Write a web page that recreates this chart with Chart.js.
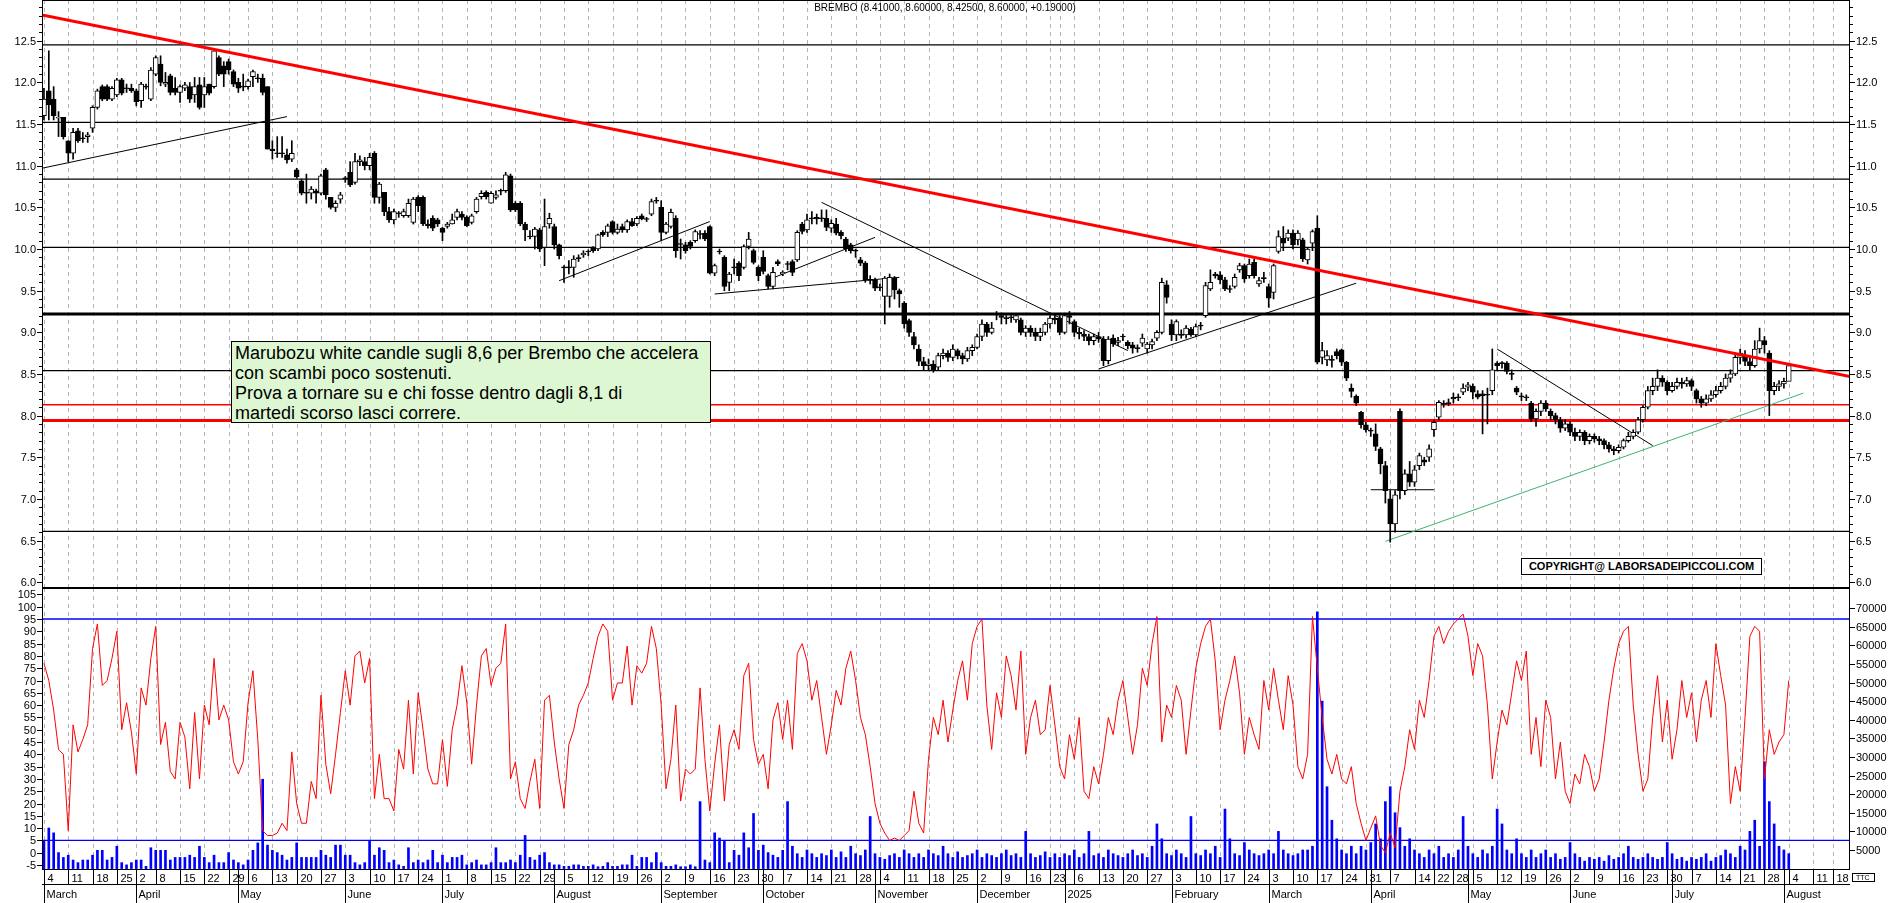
<!DOCTYPE html>
<html><head><meta charset="utf-8">
<script src="https://cdn.jsdelivr.net/npm/chart.js@4.4.1/dist/chart.umd.min.js"></script>
<style>
html,body{margin:0;padding:0;background:#fff;width:1890px;height:903px;overflow:hidden;font-family:"Liberation Sans",Arial,sans-serif}
#c1{position:absolute;left:0;top:0}
#c2{position:absolute;left:0;top:588px}
#title{position:absolute;left:0;width:1890px;top:2px;text-align:center;font-size:10px;color:#000}
#note{position:absolute;left:231px;top:341px;width:480px;height:82px;background:#ddf7d2;border:1px solid #000;font-size:18px;line-height:20px;padding:1px 0 0 3px;box-sizing:border-box;color:#000}
#copy{position:absolute;left:1521px;top:558px;width:241px;height:17px;border:1px solid #000;background:#fff;font-weight:bold;font-size:11px;line-height:15px;text-align:center;box-sizing:border-box}
</style></head>
<body>
<canvas id="c1" width="1890" height="588"></canvas>
<canvas id="c2" width="1890" height="315"></canvas>
<div id="title">BREMBO (8.41000, 8.60000, 8.42500, 8.60000, +0.19000)</div>
<div id="note">Marubozu white candle sugli 8,6 per Brembo che accelera<br>con scambi poco sostenuti.<br>Prova a tornare su e chi fosse dentro dagli 8,1 di<br>martedi scorso lasci correre.</div>
<div id="copy">COPYRIGHT@ LABORSADEIPICCOLI.COM</div>
<script>
const startDate='2024-03-04';
const holidays=['2024-03-29','2024-04-01','2024-05-01','2024-12-24','2024-12-25','2024-12-26','2024-12-31','2025-01-01','2025-04-18','2025-04-21','2025-05-01','2025-08-15'];
const monthNames=['January','February','March','April','May','June','July','August','September','October','November','December'];
const totalSlots=372;
const priceTicks=[6.0,6.5,7.0,7.5,8.0,8.5,9.0,9.5,10.0,10.5,11.0,11.5,12.0,12.5];
const oscTicks=[-5,0,5,10,15,20,25,30,35,40,45,50,55,60,65,70,75,80,85,90,95,100,105];
const volTicks=[5,10,15,20,25,30,35,40,45,50,55,60,65,70];

const O=[11.6,11.9,11.8,11.57,11.58, 11.3,11.15,11.42,11.33,11.35, 11.45,11.7,11.95,11.95,11.8, 11.85,12.03,11.93,11.93, 11.9,11.78,11.95,11.8,
12.1,12.22,11.98,12.08,11.93, 11.88,11.93,11.95,11.85,11.97, 11.85,11.98,11.95,12.3,12.2, 12.25,12.13,12.0,11.95, 11.95,12.07,12.05,12.05,11.95,
11.2,11.15,11.15,11.13,11.08, 10.95,10.82,10.68,10.67,10.7, 10.67,10.95,10.62,10.5,10.6, 10.85,10.92,10.8,11.05,11.05, 11.0,11.15,10.62,10.68,10.45,
10.35,10.43,10.4,10.4,10.32, 10.62,10.62,10.3,10.37,10.35, 10.25,10.27,10.3,10.38,10.42, 10.38,10.32,10.45,10.63,10.68, 10.55,10.62,
10.7,10.7,10.88,10.55,10.55,10.3,10.15,10.15,10.23,10.02, 10.3,10.27,10.05,9.78,9.78,9.78,9.89,9.93,9.97,10.02,
10.0,10.2,10.2,10.33,10.2,10.27,10.23,10.33,10.3,10.4, 10.36,10.42,10.58,10.5,10.2,10.27,10.37,10.06,10.05,10.08,
10.1,10.18,10.19,10.27,9.71,9.97,9.9,9.6,9.78,9.83, 9.78,10.03,9.98,9.78,9.9,9.68,9.55,9.85,9.7,9.82, 9.85,9.87,
10.3,10.23,10.37,10.38,10.37,10.37,10.25,10.3,10.2,10.12, 10.05,9.98,9.87,9.83,9.63,9.63,9.54,9.43,9.43,9.65, 9.5,9.35,9.14,
8.95,8.8,8.65,8.6,8.62,8.58,8.72,8.75,8.7,8.78, 8.72,8.68,8.78,8.82,8.95,9.1,
9.0,9.22,9.2,9.17,9.18,9.15,9.15,9.0,9.05,9.0, 8.95,9.0,9.1,9.17,9.17,9.0,9.2,9.13,9.0,
8.98,8.95,8.9,8.95,
8.92,8.66,8.93,8.88,8.95,8.88,8.85,8.81,8.87,8.8, 8.85,8.93,9.0,9.57,9.1,8.97,8.97,8.97,9.04,8.97, 9.08,9.2,9.52,9.7,9.69,9.63,9.52,9.55,9.75,9.8, 9.68,9.84,9.58,9.65,9.55,9.48,9.97,
10.13,10.13,10.19,10.11,10.11,9.87,10.07,10.25,
8.7,8.67,8.67,8.77,8.79,8.64,8.33,8.23,8.04,7.89,7.82,7.78,7.6,
7.4,7.0,6.7,8.05,7.1,7.3,7.2,7.4,7.47,7.5,
7.83,7.98,8.14,8.15,8.22,8.22,8.28,8.34,8.35,8.26, 8.26,8.25,8.3,8.63,8.63,8.63,8.5,8.33,8.23,8.22, 8.15,7.96,8.05,8.15,
8.05,8.0,7.95,7.85,7.9,7.8,7.75,7.8,7.7,7.75, 7.72,7.7,7.65,7.6,7.58,7.62,7.7,7.75,7.8,7.95, 8.1,8.3,8.35,8.45,8.4,8.3,8.35,8.4,8.38,8.42,
8.3,8.2,8.15,8.2,8.25,8.3,8.35,8.45,8.5,8.7, 8.72,8.65,8.6,8.8,8.9,8.75,8.3,8.35,8.38,8.41];
const C=[11.8,11.73,11.6,11.58,11.35, 11.15,11.4,11.3,11.33,11.37, 11.7,11.9,11.8,11.8,11.93, 12.03,11.87,11.93,11.9, 11.77,11.98,11.95,12.15,
12.3,12.0,12.0,11.88,11.88, 11.95,11.97,11.8,11.95,11.7, 11.95,11.87,12.38,12.1,12.1, 12.15,11.98,11.93,11.95, 12.02,12.13,12.05,11.88,11.2,
11.18,11.15,11.15,11.07,11.15, 10.87,10.67,10.67,10.72,10.67, 10.88,10.65,10.5,10.55,10.65, 10.85,10.77,11.05,11.07,11.0, 11.1,10.62,10.78,10.45,10.35,
10.45,10.43,10.45,10.55,10.6, 10.52,10.3,10.28,10.25,10.3, 10.2,10.3,10.35,10.45,10.38, 10.28,10.4,10.6,10.67,10.63, 10.67,10.65,
10.7,10.89,10.47,10.47,10.3,10.23,10.15,10.24,10.0,10.27, 10.37,10.05,9.92,9.78,9.78,9.88,9.89,9.95,9.97,9.98,
10.17,10.17,10.28,10.2,10.24,10.23,10.33,10.28,10.37,10.36, 10.36,10.57,10.58,10.2,10.3,10.44,9.98,10.06,9.98,10.03,
10.21,10.18,10.12,9.71,9.8,9.97,9.55,9.7,9.78,9.68, 10.03,10.12,9.84,9.68,9.73,9.55,9.72,9.82,9.72,9.82, 9.72,10.2,
10.21,10.35,10.37,10.36,10.37,10.26,10.31,10.19,10.16,10.0, 9.98,9.98,9.83,9.63,9.63,9.53,9.54,9.65,9.66,9.51, 9.46,9.1,9.0,
8.85,8.65,8.6,8.62,8.55,8.72,8.75,8.7,8.8,8.72, 8.68,8.78,8.82,8.95,9.1,9.0,
9.05,9.22,9.18,9.17,9.18,9.2,9.0,9.05,9.0,8.95, 9.0,9.1,9.17,9.15,9.0,9.2,9.18,9.0,8.98,
8.95,8.9,8.95,8.92,
8.66,8.92,8.86,8.9,8.95,8.84,8.81,8.81,8.93,8.86, 8.89,9.0,9.6,9.42,8.97,9.13,8.97,9.05,8.97,9.07, 9.08,9.56,9.6,9.68,9.63,9.52,9.52,9.66,9.8,9.64, 9.82,9.68,9.62,9.65,9.41,9.8,10.15,
10.07,10.19,10.05,10.19,9.88,10.0,10.21,8.64,
8.78,8.72,8.67,8.72,8.64,8.45,8.29,8.15,7.89,7.83,7.82,7.63,7.42,
7.1,6.7,7.05,7.1,7.3,7.2,7.35,7.52,7.44,7.6,
7.92,8.16,8.14,8.15,8.2,8.22,8.33,8.37,8.28,8.22, 8.24,8.25,8.55,8.6,8.63,8.53,8.5,8.28,8.23,8.22, 7.96,8.05,8.15,8.08,
8.0,7.95,7.85,7.9,7.8,7.75,7.8,7.7,7.75,7.72, 7.7,7.65,7.6,7.58,7.62,7.7,7.75,7.8,7.95,8.1, 8.3,8.35,8.45,8.4,8.3,8.35,8.4,8.38,8.42,8.35,
8.2,8.15,8.2,8.25,8.3,8.35,8.45,8.5,8.7,8.75, 8.65,8.6,8.8,8.9,8.85,8.3,8.35,8.38,8.41,8.6];
const H=[11.93,12.38,11.95,11.65,11.58, 11.3,11.45,11.45,11.4,11.4, 11.72,11.92,11.97,11.97,11.95, 12.05,12.05,11.98,11.98, 11.92,12.0,11.98,12.18,
12.32,12.32,12.12,12.1,12.06, 11.97,12.0,12.0,12.06,12.06, 12.06,11.98,12.38,12.32,12.25, 12.28,12.15,12.05,12.1, 12.04,12.15,12.1,12.1,11.95,
11.3,11.35,11.35,11.2,11.3, 10.97,10.84,10.9,10.75,10.72, 10.9,10.97,10.62,10.58,10.68, 10.87,11.05,11.15,11.12,11.1, 11.15,11.17,10.8,10.68,10.5,
10.48,10.45,10.48,10.6,10.62, 10.64,10.64,10.35,10.4,10.37, 10.26,10.32,10.42,10.48,10.45, 10.4,10.42,10.62,10.7,10.7, 10.69,10.7,
10.72,10.92,10.9,10.57,10.57,10.32,10.22,10.26,10.25,10.6, 10.43,10.3,10.06,9.8,9.86,9.92,9.93,9.98,9.99,10.03,
10.18,10.22,10.3,10.34,10.3,10.3,10.35,10.37,10.39,10.42, 10.38,10.6,10.62,10.58,10.32,10.48,10.4,10.12,10.08,10.1,
10.23,10.22,10.22,10.28,9.82,10.0,9.92,9.72,9.88,9.85, 10.05,10.2,10.0,9.8,9.98,9.7,9.78,9.87,9.74,9.85, 9.87,10.22,
10.32,10.42,10.45,10.42,10.47,10.47,10.35,10.37,10.22,10.14, 10.07,10.0,9.9,9.85,9.68,9.65,9.58,9.67,9.7,9.67, 9.52,9.37,9.16,
9.0,8.85,8.7,8.68,8.66,8.75,8.8,8.78,8.85,8.8, 8.75,8.82,8.85,8.98,9.15,9.12,
9.12,9.25,9.23,9.2,9.2,9.2,9.17,9.08,9.08,9.05, 9.05,9.12,9.2,9.2,9.2,9.23,9.25,9.15,9.05,
9.02,8.98,8.98,9.0,
8.95,8.95,8.97,8.94,8.98,8.9,8.88,8.85,8.98,8.88, 8.92,9.02,9.65,9.62,9.15,9.15,9.03,9.08,9.06,9.1, 9.12,9.6,9.75,9.72,9.73,9.66,9.56,9.7,9.83,9.82, 9.88,9.88,9.66,9.72,9.58,9.82,10.22,
10.27,10.23,10.23,10.22,10.13,10.02,10.23,10.4,
8.88,8.78,8.72,8.8,8.8,8.65,8.38,8.25,8.05,7.92,7.85,7.9,7.62,
7.45,7.1,7.1,8.08,7.35,7.45,7.4,7.55,7.5,7.65,
7.95,8.18,8.18,8.2,8.27,8.26,8.38,8.4,8.38,8.3, 8.3,8.33,8.8,8.65,8.65,8.65,8.55,8.35,8.27,8.25, 8.17,8.08,8.18,8.18,
8.08,8.03,7.98,7.95,7.93,7.85,7.83,7.82,7.78,7.78, 7.75,7.72,7.68,7.63,7.65,7.72,7.8,7.83,7.98,8.12, 8.35,8.45,8.55,8.48,8.42,8.4,8.45,8.45,8.46,8.44,
8.32,8.23,8.25,8.3,8.35,8.4,8.5,8.55,8.75,8.8, 8.78,8.7,8.9,9.05,8.95,8.78,8.4,8.42,8.45,8.6];
const L=[11.55,11.55,11.55,11.35,11.32, 11.05,11.08,11.28,11.28,11.28, 11.4,11.68,11.78,11.78,11.78, 11.83,11.85,11.88,11.88, 11.72,11.7,11.92,11.78,
12.08,11.96,11.95,11.85,11.85, 11.76,11.9,11.76,11.76,11.68, 11.7,11.85,11.93,12.08,11.95, 12.1,11.95,11.88,11.9, 11.92,11.95,12.0,11.85,11.2,
11.08,11.1,11.1,11.03,11.05, 10.85,10.65,10.55,10.6,10.55, 10.65,10.6,10.48,10.45,10.55, 10.8,10.75,10.78,11.0,10.95, 10.95,10.55,10.55,10.4,10.32,
10.3,10.38,10.38,10.38,10.3, 10.45,10.28,10.25,10.22,10.27, 10.1,10.25,10.3,10.35,10.35, 10.27,10.3,10.43,10.6,10.6, 10.55,10.6,
10.65,10.68,10.45,10.45,10.28,10.1,10.12,10.0,9.97,9.8, 10.25,10.0,9.88,9.6,9.7,9.66,9.85,9.9,9.92,9.96,
9.98,10.15,10.15,10.18,10.18,10.2,10.2,10.27,10.28,10.35, 10.33,10.4,10.55,10.1,10.18,10.25,9.9,9.88,9.95,10.0,
10.08,10.12,10.1,9.7,9.68,9.94,9.5,9.5,9.7,9.62, 9.76,10.0,9.82,9.62,9.7,9.52,9.52,9.8,9.68,9.75, 9.68,9.85,
10.18,10.2,10.3,10.3,10.33,10.22,10.2,10.17,10.12,9.97, 9.95,9.9,9.8,9.6,9.58,9.5,9.5,9.1,9.3,9.4, 9.3,9.05,8.95,
8.8,8.6,8.55,8.55,8.52,8.55,8.68,8.65,8.66,8.68, 8.62,8.65,8.72,8.8,8.9,8.95,
8.98,9.15,9.1,9.1,9.12,9.12,8.97,8.95,8.95,8.9, 8.9,8.97,9.05,9.1,8.97,8.98,9.1,8.95,8.92,
8.9,8.85,8.85,8.88,
8.6,8.62,8.83,8.84,8.9,8.8,8.75,8.76,8.83,8.75, 8.8,8.9,8.98,9.35,8.9,8.9,8.93,8.93,8.95,8.95, 9.03,9.18,9.5,9.65,9.58,9.5,9.48,9.53,9.72,9.6, 9.65,9.65,9.55,9.6,9.3,9.4,9.95,
9.98,10.1,10.0,10.05,9.85,9.82,9.98,8.62,
8.62,8.6,8.58,8.68,8.6,8.42,8.22,8.12,7.85,7.8,7.75,7.58,7.3,
6.95,6.48,6.6,7.0,7.05,7.15,7.15,7.35,7.4,7.45,
7.75,7.95,8.1,8.12,8.15,8.18,8.25,8.3,8.2,8.2, 7.78,7.9,8.25,8.55,8.57,8.5,8.43,8.25,8.18,8.18, 7.93,7.87,8.0,8.05,
7.95,7.9,7.8,7.82,7.76,7.7,7.7,7.65,7.66,7.68, 7.65,7.6,7.56,7.53,7.55,7.6,7.68,7.72,7.78,7.92, 8.08,8.25,8.3,8.35,8.25,8.28,8.32,8.33,8.35,8.3,
8.15,8.1,8.12,8.17,8.22,8.27,8.32,8.4,8.48,8.62, 8.6,8.55,8.58,8.75,8.75,8.0,8.25,8.3,8.33,8.425];

const osc=[77,70,58,42,40,9,52,41,46,52, 83,93,68,70,79,90,50,61,49,32, 67,60,79,92,44,53,33,30,53,47,
26,57,30,60,52,79,54,60,54,37, 32,37,61,74,46,9,7,7,8,12, 9,41,20,12,12,29,22,64,36,24,
40,57,74,60,80,82,69,79,22,40, 22,22,17,42,34,62,32,65,50,34, 28,28,46,27,50,60,76,61,36,60,
80,83,68,75,77,93,30,37,22,18, 29,38,18,62,64,45,30,18,44,50, 60,64,69,79,88,93,90,62,69,69,
84,60,76,73,77,92,83,60,26,38, 60,21,34,32,34,67,38,17,36,52, 21,44,50,42,72,77,46,36,40,26,
54,61,46,62,42,81,
85,78,62,70,55,40,52,66,60,75,82,70,55,48,
35,20,12,8,5,6,5,7,9,25, 12,8,38,55,48,62,45,58,70,78, 62,85,92,95,60,42,65,55,80,72,
58,82,40,55,62,48,50,68,52,35, 30,48,38,55,25,22,35,28,40,55, 48,62,70,55,40,52,75,68,85,96,
45,60,55,68,62,40,58,75,85,92, 95,78,50,62,70,80,65,40,55,48, 42,70,58,75,62,50,72,60,35,30,
40,96,75,55,38,32,40,30,28,35, 20,12,5,10,15,3,0,8,2,25, 35,50,42,62,55,70,88,92,85,90,
93,95,97,88,72,85,80,60,30,45, 58,52,65,78,70,82,40,55,35,62, 55,30,45,25,20,32,28,40,35,25,
30,45,62,75,85,90,92,60,40,25, 30,55,72,45,62,38,50,70,55,65, 45,62,70,55,85,72,60,20,35,25,
55,88,92,90,30,50,40,45,48,70];

const volK=[7.6,10.9,9.6,4.3,3,3.6,2.3,1.6,2.3,2.3, 3.6,4.9,4.9,2.3,3,6,1.6,1,1.6,2.3, 2.3,0.6,5.6,4.9,4.9,4.9,2.3,3,3,3,
3.6,3,6,3,1.6,3.6,1.6,1.6,4.3,2.3, 1.6,1,2.3,4.9,6.9,24,6.3,4.9,4.3,3.6, 2.3,3,6.9,3,3,3,3,4.9,3.6,3,
6.3,6.3,3.6,3.6,1.6,1,1.6,7.6,3.6,5.6, 4.9,1.6,2.3,1,0.6,5.6,1.6,2.3,1.6,2.3, 4.9,1.6,3.6,1.6,3,3,3.6,1,1.6,2.3,
1,1,1.6,5.6,1.6,1.6,2.3,1.6,3.6,8.9, 3,2.3,3.6,4.3,1.6,1,1,0.6,0.6,1, 1,0.6,0.6,1,0.5,0.6,1.6,0.6,0.6,1,
1,3.6,0.6,3,3,1.6,4.3,1.6,0.6,0.6, 1,0.5,0.5,1,0.5,18,2.3,1.6,9.6,8.2, 7.6,1.6,4.9,3.6,9.6,5.6,14.8,4.9,6.3,4.3,
3.6,3,4.9,18,6,4,3,5,4,3,
4,3.5,5,3,4.5,3,6,4,3.5,5, 14,4,3,2.5,3.5,4,3,5,4,3, 4,3,5,4,3.5,6,4,3,4.5,3, 3.5,4,5,3,4,3.5,3,4,5,3.5,
4,3,10,4,3,3.5,4.5,3,4,3, 4,3.5,5,3,4,10,3.5,4,3,5, 4,3.5,3,4,5,3.5,4,3,6,12, 8,4,3.5,5,4,3,14,4,3.5,5,
4,6,3,16,8,4,3.5,7,5,4, 3.5,4,5,4,10,5,4,3.5,4,5, 5,6,69,45,22,13,8,5,4,6, 4,6,5,7,12,8,18,22,15,11,
6,8,5,4,3,5,4,6,3,4, 3,5,14,6,4,3,5,4,6,16, 12,5,4,8,4,3,5,3,4,5, 3,4,2.5,3,7,4,3,2,3,2.5,
3,2,3.5,2.5,3,4,6,3,2.5,3, 4,3,2.5,3,7,4,2.5,3,2,3, 2.5,3,4,2,3,3.5,5,4,3,6, 5,10,13,6,28.7,18,12,6,5,4];

// reference levels and trend lines (day index, price)
const blackLevels=[12.45,11.52,10.84,10.02,8.54,6.61];
const thickBlackLevel=9.22;
const redLevelThick=7.94;
const redLevelThin=8.13;
const redTrend=[[-0.4,12.81],[371.6,8.47]];
const blackTrends=[
 [[-0.4,10.97],[50,11.59]],
 [[106,9.62],[137,10.33]],
 [[138,9.46],[176,9.66]],
 [[149,9.63],[171,10.14]],
 [[160,10.56],[223,8.78]],
 [[217,8.56],[270,9.59]],
 [[299,8.8],[331,7.64]],
 [[273,7.11],[286,7.11]]
];
const greenTrend=[[276,6.49],[362,8.27]];
const oscLevels=[5,95];

// trading calendar
const dates=[];
{ let d=new Date(startDate+'T00:00:00Z');
  while(dates.length<totalSlots){ const dw=d.getUTCDay(); const s=d.toISOString().slice(0,10);
    if(dw!==0&&dw!==6&&!holidays.includes(s)) dates.push(new Date(d));
    d=new Date(d.getTime()+86400000);} }
const weekStarts=[],monthStarts=[];
dates.forEach((d,i)=>{
  if(i===0||d.getUTCDay()<dates[i-1].getUTCDay()) weekStarts.push(i);
  if(i===0||d.getUTCMonth()!==dates[i-1].getUTCMonth()) monthStarts.push(i);
});

const XMIN=-0.4,XMAX=371.6;
const PAD={left:42,right:40};

function axisPluginY(id,leftId,rightId,leftVals,rightVals,leftFmt,rightFmt,minorStep,minorRange){
  return {id,afterDraw(ch){const {ctx,chartArea:a}=ch;const yl=ch.scales[leftId],yr=ch.scales[rightId];
    ctx.save();ctx.fillStyle='#000';ctx.strokeStyle='#000';ctx.lineWidth=1;
    ctx.font='11px "Liberation Sans"';ctx.textBaseline='middle';
    ctx.strokeRect(a.left+0.5,a.top+0.5,a.right-a.left-1,a.bottom-a.top-1);
    if(minorStep){for(let v=minorRange[0];v<=minorRange[1]+1e-9;v+=minorStep){const py=Math.round(yl.getPixelForValue(v))+0.5;
      ctx.beginPath();ctx.moveTo(a.left-3,py);ctx.lineTo(a.left,py);ctx.moveTo(a.right,py);ctx.lineTo(a.right+3,py);ctx.stroke();}}
    ctx.textAlign='right';
    leftVals.forEach(v=>{const py=Math.round(yl.getPixelForValue(v))+0.5;ctx.beginPath();ctx.moveTo(a.left-5,py);ctx.lineTo(a.left,py);ctx.stroke();ctx.fillText(leftFmt(v),a.left-6,py);});
    ctx.textAlign='left';
    rightVals.forEach(v=>{const py=Math.round(yr.getPixelForValue(v))+0.5;ctx.beginPath();ctx.moveTo(a.right,py);ctx.lineTo(a.right+5,py);ctx.stroke();ctx.fillText(rightFmt(v),a.right+6,py);});
    ctx.restore();}};
}
const gridPlugin={id:'weekgrid',beforeDatasetsDraw(ch){const {ctx,chartArea:a,scales:{x}}=ch;ctx.save();ctx.strokeStyle='#b4b4b4';ctx.lineWidth=1;ctx.setLineDash([4,4]);
  weekStarts.forEach(i=>{const px=Math.round(x.getPixelForValue(i))+0.5;if(px>a.right)return;ctx.beginPath();ctx.moveTo(px,a.top);ctx.lineTo(px,a.bottom);ctx.stroke();});ctx.restore();}};

const seg=(p)=>p.map(q=>({x:q[0],y:q[1]}));
const hline=(v,col,w)=>({type:'line',data:[{x:XMIN,y:v},{x:XMAX,y:v}],borderColor:col,borderWidth:w,pointRadius:0,order:10});

const bodies=O.map((o,i)=>({x:i,y:o===C[i]?[o-0.006,o+0.006]:[Math.min(o,C[i]),Math.max(o,C[i])]}));
const wicks=H.map((h,i)=>({x:i,y:[L[i],h]}));
const bodyColors=O.map((o,i)=>C[i]>o?'#ffffff':'#000000');

const ds1=[];
blackLevels.forEach(v=>ds1.push(hline(v,'#000',1.3)));
ds1.push(hline(thickBlackLevel,'#000',3));
ds1.push(hline(redLevelThin,'#ff0000',1.5));
ds1.push(hline(redLevelThick,'#ff0000',3));
blackTrends.forEach(t=>ds1.push({type:'line',data:seg(t),borderColor:'#000',borderWidth:1,pointRadius:0,order:3}));
ds1.push({type:'line',data:seg(greenTrend),borderColor:'#3cb371',borderWidth:1,pointRadius:0,order:3});
ds1.push({type:'bar',data:wicks,backgroundColor:'#000',barThickness:1,grouped:false,order:2});
ds1.push({type:'bar',data:bodies,backgroundColor:bodyColors,borderColor:'#000',borderWidth:1,borderSkipped:false,barThickness:5,grouped:false,order:1});
ds1.push({type:'line',data:seg(redTrend),borderColor:'#ff0000',borderWidth:3,pointRadius:0,order:0});

new Chart(document.getElementById('c1'),{
  type:'bar',data:{datasets:ds1},
  options:{responsive:false,animation:false,devicePixelRatio:1,events:[],
    layout:{padding:{left:PAD.left,right:PAD.right,top:0,bottom:0}},
    plugins:{legend:{display:false},tooltip:{enabled:false}},
    scales:{
      x:{type:'linear',min:XMIN,max:XMAX,display:false,offset:false},
      y:{min:5.93,max:12.99,display:false},
      y2:{min:5.93,max:12.99,display:false}
    }},
  plugins:[gridPlugin,axisPluginY('yax1','y','y2',priceTicks,priceTicks,v=>v.toFixed(1),v=>v.toFixed(1),0.1,[6.0,12.9])]
});

const axisPlugin={id:'xlabels',afterDraw(ch){const {ctx,chartArea:a,scales:{x}}=ch;ctx.save();ctx.fillStyle='#000';ctx.strokeStyle='#000';ctx.lineWidth=1;
  ctx.font='11px "Liberation Sans"';ctx.textBaseline='alphabetic';ctx.textAlign='left';
  const y0=a.bottom;let lastPx=-100;
  weekStarts.forEach(i=>{const px=Math.round(x.getPixelForValue(i))+0.5;if(px>a.right)return;
    if(px-lastPx<16)return;lastPx=px;
    ctx.beginPath();ctx.moveTo(px,y0);ctx.lineTo(px,y0+14);ctx.stroke();
    ctx.fillText(String(dates[i].getUTCDate()),px+3,y0+12);});
  monthStarts.forEach(i=>{const px=Math.round(x.getPixelForValue(i))+0.5;if(px>a.right)return;
    ctx.beginPath();ctx.moveTo(px,y0);ctx.lineTo(px,y0+33);ctx.stroke();
    const m=dates[i].getUTCMonth();const t=m===0?String(dates[i].getUTCFullYear()):monthNames[m];
    ctx.fillText(t,px+2,y0+28);});
  ctx.beginPath();ctx.moveTo(a.left,y0+14.5);ctx.lineTo(a.right,y0+14.5);ctx.stroke();
  ctx.font='7px "Liberation Sans"';ctx.strokeRect(a.right+2.5,y0+3.5,22,8);ctx.fillText('TTC',a.right+6,y0+10);
  ctx.restore();}};

const ds2=[];
oscLevels.forEach(v=>ds2.push({type:'line',yAxisID:'y',data:[{x:XMIN,y:v},{x:XMAX,y:v}],borderColor:'#0000ff',borderWidth:1.3,pointRadius:0,order:5}));
ds2.push({type:'bar',yAxisID:'yv',data:volK.map((v,i)=>({x:i,y:v})),backgroundColor:'#0000ff',barThickness:2,grouped:false,order:3});
ds2.push({type:'line',yAxisID:'y',data:osc.map((v,i)=>({x:i,y:v})),borderColor:'#ff0000',borderWidth:1,pointRadius:0,tension:0,order:1});

new Chart(document.getElementById('c2'),{
  type:'bar',data:{datasets:ds2},
  options:{responsive:false,animation:false,devicePixelRatio:1,events:[],
    layout:{padding:{left:PAD.left,right:PAD.right,top:0,bottom:33}},
    plugins:{legend:{display:false},tooltip:{enabled:false}},
    scales:{
      x:{type:'linear',min:XMIN,max:XMAX,display:false,offset:false},
      y:{min:-7,max:107.6,display:false},
      yv:{min:-0.38,max:75.4,display:false}
    }},
  plugins:[gridPlugin,axisPlugin,axisPluginY('yax2','y','yv',oscTicks,volTicks,v=>String(v),v=>String(v*1000),0,null)]
});
</script>
</body></html>
